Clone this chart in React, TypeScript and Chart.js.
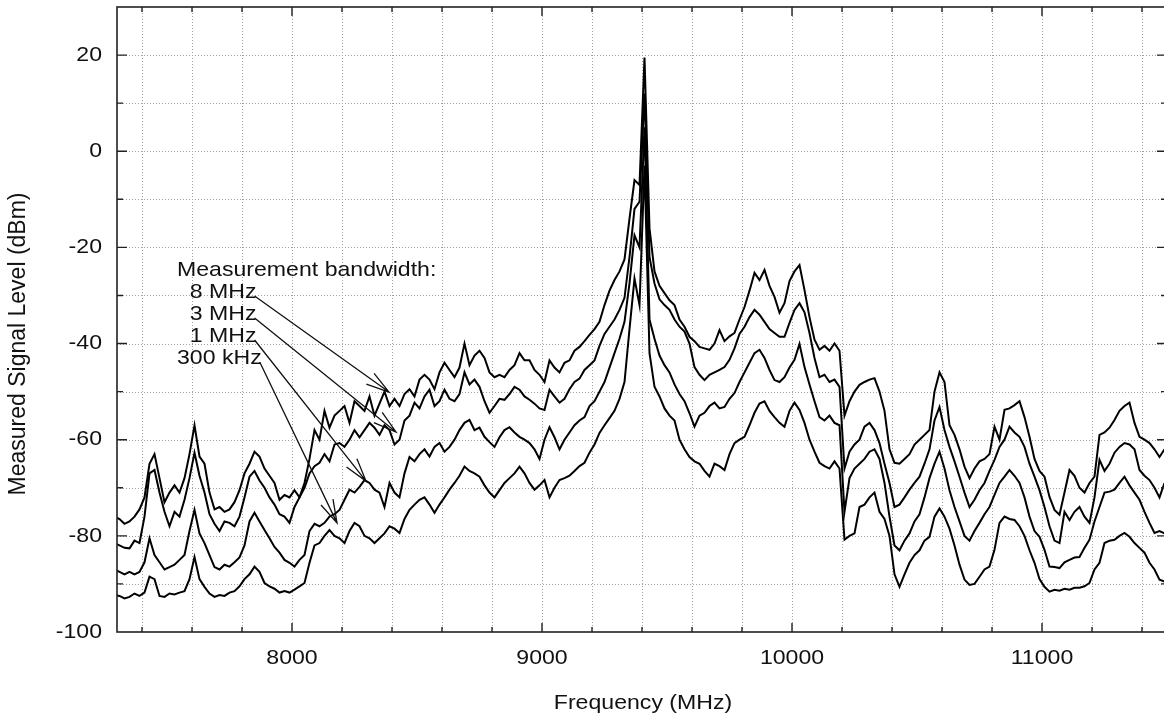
import React, { useEffect, useRef } from 'react';
import { Chart, registerables } from 'chart.js';

Chart.register(...registerables);

// Spectrum samples: one value every 20 MHz starting at 7290 MHz.
const FREQ_START = 7290;
const FREQ_STEP = 20;

// 8 MHz measurement bandwidth (dBm)
const bw8MHz = [
  -76, -76.5, -77.5, -77, -76, -74.5, -72, -65, -63, -68,
  -73, -71, -69.5, -71, -68, -63, -57, -63.5, -65, -71,
  -74.5, -74, -75, -74.5, -73, -70.5, -67, -65, -62.5, -63.5,
  -66, -67.5, -69, -72.5, -71.5, -72, -70.5, -72, -69, -64,
  -58, -60, -54, -57.5, -55, -54, -53, -56.5, -52, -53,
  -54, -51, -55, -52.5, -50, -53, -51.5, -53, -50.5, -49.5,
  -51, -47.5, -46.5, -47.5, -49.5, -46, -44, -45.5, -47, -45,
  -40, -44.5, -42.5, -41.5, -43, -46, -47, -46.5, -47, -45.5,
  -44.5, -42, -43.5, -43.5, -45.5, -46.5, -48, -43.5, -45, -46,
  -44, -43.5, -41.5, -40.7, -39.5, -38.2, -37, -35.5, -32, -29,
  -26.8, -25, -22.5, -14, -6, -7, 19.5, -16, -25, -28,
  -29.5, -31, -32, -35, -36.5, -38.6, -39.5, -40.7, -41, -41.3,
  -40, -37.2, -39.5, -38.5, -37.8, -35, -32.4, -29, -25.3, -26.8,
  -24.7, -28, -30.3, -33.6, -31.6, -27, -25, -23.7, -28.9, -34.5,
  -39.2, -41.3, -40.5, -41.5, -40, -41.5, -55, -52, -50, -48.6,
  -48, -47.5, -47.2, -50, -54, -62, -64.8, -65, -64, -63,
  -61, -60, -59, -58, -50, -46, -48, -57, -59, -62,
  -65.6, -68, -66, -64.5, -64, -63, -57.3, -60, -53.8, -53.5,
  -52.8, -52, -55.3, -59.4, -64, -66.5, -67.7, -71.9, -74.6, -75.6,
  -71, -66.3, -67.5, -70, -71, -69, -67.7, -59, -58.5, -57.5,
  -55.9, -54, -53, -52.3, -56.5, -59.4, -60, -60.7, -62, -63.6,
  -62,
];

// 3 MHz measurement bandwidth (dBm)
const bw3MHz = [
  -81.5, -82, -82.5, -82.6, -81, -81.5, -76, -67, -66.3, -71,
  -75, -78, -75, -76, -72.5, -68, -62.7, -67.5, -71, -75.5,
  -77.5, -79, -77, -77.3, -78, -76, -72, -67.7, -66.5, -68.5,
  -70, -72, -73.5, -75.5, -76, -77.3, -74, -72, -70, -67,
  -65.5, -64.8, -63, -64.5, -61, -60.7, -61.5, -60, -58, -59.5,
  -58, -56.5, -57.5, -59, -57, -58, -61, -60, -56, -55,
  -52.3, -53.5, -51, -49.6, -53, -52, -49.6, -51.5, -52, -50.5,
  -46, -48.5, -47.5, -49, -52, -54.4, -53, -51.5, -51.7, -50.5,
  -49, -49.6, -51, -51.7, -52.5, -53.5, -53.8, -49.6, -51, -52.3,
  -51.5, -49.5, -48, -47.3, -45.5, -44.5, -43.5, -40.5, -38, -36.5,
  -35, -33, -30.5, -22, -12, -10.5, 12, -22, -27.5, -30.8,
  -32, -33, -35, -36.5, -37.5, -40, -44.9, -46.5, -47.6, -46.5,
  -46, -45.5, -44.9, -43.4, -41, -38, -36.5, -34.5, -33, -34,
  -35.5, -37, -37.8, -38.6, -38.6, -35.7, -33, -31.6, -33.5, -37.8,
  -43, -47, -46.5, -48, -47.5, -49, -66, -62.5, -61, -60,
  -57.3, -56.5, -58, -60.7, -65, -69, -74, -73.5, -72, -70.4,
  -69, -67.7, -65, -62, -56, -53.2, -58, -61.5, -64.5, -67.7,
  -71, -74, -72.5, -70.5, -69, -66.5, -64.2, -61.5, -60, -57.3,
  -58.5, -59.4, -61.5, -65, -67.7, -70.5, -74, -78, -81, -81.5,
  -75, -76.7, -75, -74, -76, -77.3, -72, -64.2, -66.5, -65,
  -62.7, -61.5, -60.7, -61, -62, -66.3, -67.5, -68.4, -70, -72,
  -69,
];

// 1 MHz measurement bandwidth (dBm)
const bw1MHz = [
  -87, -87.5, -88, -87.5, -88, -87.5, -85.5, -80.5, -84, -85.5,
  -87, -86.5, -86, -85, -84, -79, -74.6, -79.5, -81.5, -84,
  -86.5, -87, -86, -86.4, -85.5, -84.5, -82, -77, -75.2, -77,
  -78.8, -80.5, -82.3, -83.5, -85, -85.6, -86.4, -85, -84, -79,
  -77.5, -78, -77.3, -76, -75.5, -74.6, -72.5, -70.4, -71, -69.8,
  -68.4, -69, -70.4, -71, -74, -69, -71, -72, -67, -63.6,
  -64.5, -63, -62, -63.5, -61.5, -60.7, -62.5, -61.5, -60, -58,
  -56.5, -55.9, -58, -57.5, -59.4, -60.5, -61.5, -59.5, -58, -57.4,
  -58.5, -59.4, -60, -60.7, -62, -64, -60, -57.4, -59.5, -62,
  -60, -58.5, -57, -56, -55.3, -53, -52, -50, -48, -45,
  -42, -39, -35.5, -27.5, -17.5, -20, 5, -35, -39, -42.5,
  -44.5, -46, -48.5, -50.5, -52, -54.5, -57.3, -55, -54.4, -53,
  -52.3, -53.5, -53.2, -51.5, -50.3, -48, -46, -44, -42, -41.3,
  -43, -45.5, -47.6, -48, -47, -45, -43.4, -40.1, -44.9, -48.5,
  -52, -55.3, -56, -55, -56.5, -57, -75, -68, -66, -65,
  -64, -62.5, -62, -64, -69, -76, -82, -83, -81, -79.5,
  -77, -75.5, -72, -68, -65, -62.5, -66, -70.5, -74, -77,
  -80, -81, -79, -77.3, -75.5, -74, -71.5, -69, -67.7, -66.3,
  -67.5, -69, -72, -76, -79, -80.2, -82.9, -86.4, -86.5, -86.7,
  -85.5, -85, -84.5, -84.4, -82.5, -80.8, -77, -74, -71, -70.8,
  -70.4, -69, -67.7, -69.5, -71, -72.5, -75, -77.3, -79.4, -79,
  -79.5,
];

// 300 kHz measurement bandwidth (dBm)
const bw300kHz = [
  -92.3, -92.5, -93, -92.7, -92, -92.5, -91.8, -88.5, -89, -92.5,
  -92.7, -92, -92.2, -91.8, -91.5, -89, -84.4, -89, -90.6, -92,
  -92.7, -92.3, -92.5, -91.8, -91.5, -90.5, -89, -88, -86.4, -87.5,
  -89.8, -90.5, -91, -91.8, -91.5, -91.8, -91.2, -90.5, -89.8, -85.6,
  -82, -81.5, -80, -78.8, -80, -80.5, -81.5, -79, -77.3, -78,
  -80, -80.5, -81.5, -80.5, -79.5, -78, -78.5, -79.4, -76.5, -74.6,
  -73.5, -72.5, -72, -73.5, -75.2, -73.5, -72, -70.4, -69, -67.5,
  -65.6, -66.5, -67, -67.7, -69.5, -71, -72, -70.5, -69, -68,
  -67, -65.6, -67, -69, -70.4, -69.5, -68.4, -72, -70, -68.4,
  -68, -67.5, -66.5, -65.5, -64.8, -62.7, -61, -58.6, -57, -55.5,
  -54, -51.5, -48, -37, -26.5, -32, -3, -42, -49, -51,
  -53.5, -55, -56, -60, -62, -63.6, -64.5, -65, -66.5, -67.7,
  -65, -65.5, -66.3, -63, -60.7, -60, -59.4, -57, -54.4, -52.5,
  -52, -54, -55.3, -56.5, -57.3, -54, -52.3, -53.8, -56.5, -60,
  -62.5, -64.8, -65.5, -66, -64.5, -66, -80.8, -80, -79.5, -74,
  -73.5, -72, -71, -75, -76.5, -80, -88, -90.6, -88, -85.6,
  -84, -83, -81, -80.2, -76, -74.3, -76, -78.5, -82, -86,
  -89.1, -90.2, -90, -88.5, -87, -86.4, -82.9, -77.3, -76, -76.5,
  -76.7, -78, -80, -83, -85.6, -89, -90.6, -91.6, -91.2, -91.4,
  -91, -91.2, -90.8, -90.8, -90.5, -89.8, -87, -85.6, -81.5, -81,
  -80.8, -80, -79.4, -80.2, -81.5, -82.5, -83.5, -85.6, -87, -89.1,
  -89.5,
];

const frequencies = bw8MHz.map((_, i) => FREQ_START + i * FREQ_STEP);

// Axes
const X_MIN = 7300;
const X_MAX = 11500;
const Y_MIN = -100;
const Y_MAX = 30;
const xTickLabels = [8000, 9000, 10000, 11000];
const yTickLabels = [20, 0, -20, -40, -60, -80, -100];

// Annotation
const annotationTitle = 'Measurement bandwidth:';
const bandwidthLabels = ['  8 MHz', '  3 MHz', '  1 MHz', '300 kHz'];
const arrowTipFreq = [8388, 8416, 8296, 8180];
const arrowTipLevel = [-50.1, -58.4, -68.6, -77.3];

const FONT = '"Liberation Sans", Arial, Helvetica, sans-serif';
const TEXT_STRETCH = 1.1;

function stretchedText(
  ctx: CanvasRenderingContext2D,
  text: string,
  x: number,
  y: number,
  align: CanvasTextAlign,
) {
  ctx.save();
  ctx.translate(x, y);
  ctx.scale(TEXT_STRETCH, 1);
  ctx.textAlign = align;
  ctx.textBaseline = 'middle';
  ctx.fillText(text, 0, 0);
  ctx.restore();
}

const gnuplotFrame = {
  id: 'gnuplotFrame',
  beforeDatasetsDraw(chart: any) {
    const { ctx, chartArea: a, scales } = chart;
    const xs = scales.x;
    const ys = scales.y;
    ctx.save();
    ctx.strokeStyle = '#a0a0a0';
    ctx.lineWidth = 1;
    ctx.setLineDash([1, 2]);
    for (let f = X_MIN + 100; f < X_MAX; f += 200) {
      const px = Math.round(xs.getPixelForValue(f)) + 0.5;
      ctx.beginPath();
      ctx.moveTo(px, a.top);
      ctx.lineTo(px, a.bottom);
      ctx.stroke();
    }
    for (let v = Y_MIN + 10; v < Y_MAX; v += 10) {
      const py = Math.round(ys.getPixelForValue(v)) + 0.5;
      ctx.beginPath();
      ctx.moveTo(a.left, py);
      ctx.lineTo(a.right, py);
      ctx.stroke();
    }
    ctx.restore();
  },
  afterDatasetsDraw(chart: any) {
    const { ctx, chartArea: a, scales } = chart;
    const xs = scales.x;
    const ys = scales.y;
    ctx.save();
    ctx.setLineDash([]);
    ctx.strokeStyle = '#222';
    ctx.lineWidth = 1.6;
    ctx.strokeRect(a.left, a.top, a.right - a.left, a.bottom - a.top);

    // inward tick marks on all four sides
    ctx.lineWidth = 1.4;
    for (let f = X_MIN + 100; f < X_MAX; f += 200) {
      const px = xs.getPixelForValue(f);
      const len = f % 1000 === 0 ? 9 : 5;
      ctx.beginPath();
      ctx.moveTo(px, a.bottom);
      ctx.lineTo(px, a.bottom - len);
      ctx.moveTo(px, a.top);
      ctx.lineTo(px, a.top + len);
      ctx.stroke();
    }
    for (let v = Y_MIN + 10; v < Y_MAX; v += 10) {
      const py = ys.getPixelForValue(v);
      const len = v % 20 === 0 ? 10 : 6;
      ctx.beginPath();
      ctx.moveTo(a.left, py);
      ctx.lineTo(a.left + len, py);
      ctx.moveTo(a.right, py);
      ctx.lineTo(a.right - len, py);
      ctx.stroke();
    }

    // tick labels
    ctx.fillStyle = '#111';
    ctx.font = `21px ${FONT}`;
    xTickLabels.forEach((f) => {
      stretchedText(ctx, String(f), xs.getPixelForValue(f), a.bottom + 26, 'center');
    });
    yTickLabels.forEach((v) => {
      stretchedText(ctx, String(v), a.left - 15, ys.getPixelForValue(v), 'right');
    });

    // axis titles
    stretchedText(ctx, 'Frequency (MHz)', (a.left + a.right) / 2 + 1, a.bottom + 71, 'center');
    ctx.save();
    ctx.font = `23px ${FONT}`;
    ctx.translate(19, 344);
    ctx.rotate(-Math.PI / 2);
    ctx.textAlign = 'center';
    ctx.textBaseline = 'middle';
    ctx.fillText('Measured Signal Level (dBm)', 0, 0);
    ctx.restore();

    // bandwidth annotation with arrows
    ctx.font = `21px ${FONT}`;
    const tx = xs.getPixelForValue(7540);
    const ty = ys.getPixelForValue(-24.7);
    const lineGap = 22;
    stretchedText(ctx, annotationTitle, tx, ty, 'left');
    ctx.lineWidth = 1.3;
    ctx.strokeStyle = '#111';
    bandwidthLabels.forEach((label, i) => {
      const ly = ty + lineGap * (i + 1);
      stretchedText(ctx, label, tx, ly, 'left');
      const sx = tx + ctx.measureText(label).width * TEXT_STRETCH - 2;
      const sy = ly + 4;
      const ex = xs.getPixelForValue(arrowTipFreq[i]);
      const ey = ys.getPixelForValue(arrowTipLevel[i]);
      const ang = Math.atan2(ey - sy, ex - sx);
      const head = 24;
      const spread = 0.28;
      ctx.beginPath();
      ctx.moveTo(sx, sy);
      ctx.lineTo(ex, ey);
      ctx.moveTo(ex - head * Math.cos(ang - spread), ey - head * Math.sin(ang - spread));
      ctx.lineTo(ex, ey);
      ctx.lineTo(ex - head * Math.cos(ang + spread), ey - head * Math.sin(ang + spread));
      ctx.stroke();
    });
    ctx.restore();
  },
};

const seriesList = [
  { label: '8 MHz', values: bw8MHz },
  { label: '3 MHz', values: bw3MHz },
  { label: '1 MHz', values: bw1MHz },
  { label: '300 kHz', values: bw300kHz },
];

export default function App() {
  const canvasRef = useRef<HTMLCanvasElement | null>(null);

  useEffect(() => {
    const canvas = canvasRef.current;
    if (!canvas) return;
    const chart = new Chart(canvas, {
      type: 'line',
      data: {
        datasets: seriesList.map((s) => ({
          label: s.label,
          data: frequencies.map((f, i) => ({ x: f, y: s.values[i] })),
          borderColor: '#000',
          borderWidth: 2,
          pointRadius: 0,
          tension: 0,
          fill: false,
        })),
      },
      options: {
        responsive: false,
        animation: false,
        devicePixelRatio: 1,
        layout: { padding: { left: 117, right: 3, top: 7, bottom: 85 } },
        plugins: { legend: { display: false }, tooltip: { enabled: false } },
        scales: {
          x: { type: 'linear', min: X_MIN, max: X_MAX, display: false },
          y: { type: 'linear', min: Y_MIN, max: Y_MAX, display: false },
        },
      },
      plugins: [gnuplotFrame],
    });
    return () => chart.destroy();
  }, []);

  return (
    <div
      style={{
        position: 'fixed',
        left: 0,
        top: 0,
        width: 1164,
        height: 717,
        overflow: 'hidden',
        background: '#fff',
      }}
    >
      <canvas ref={canvasRef} width={1170} height={717} />
    </div>
  );
}
